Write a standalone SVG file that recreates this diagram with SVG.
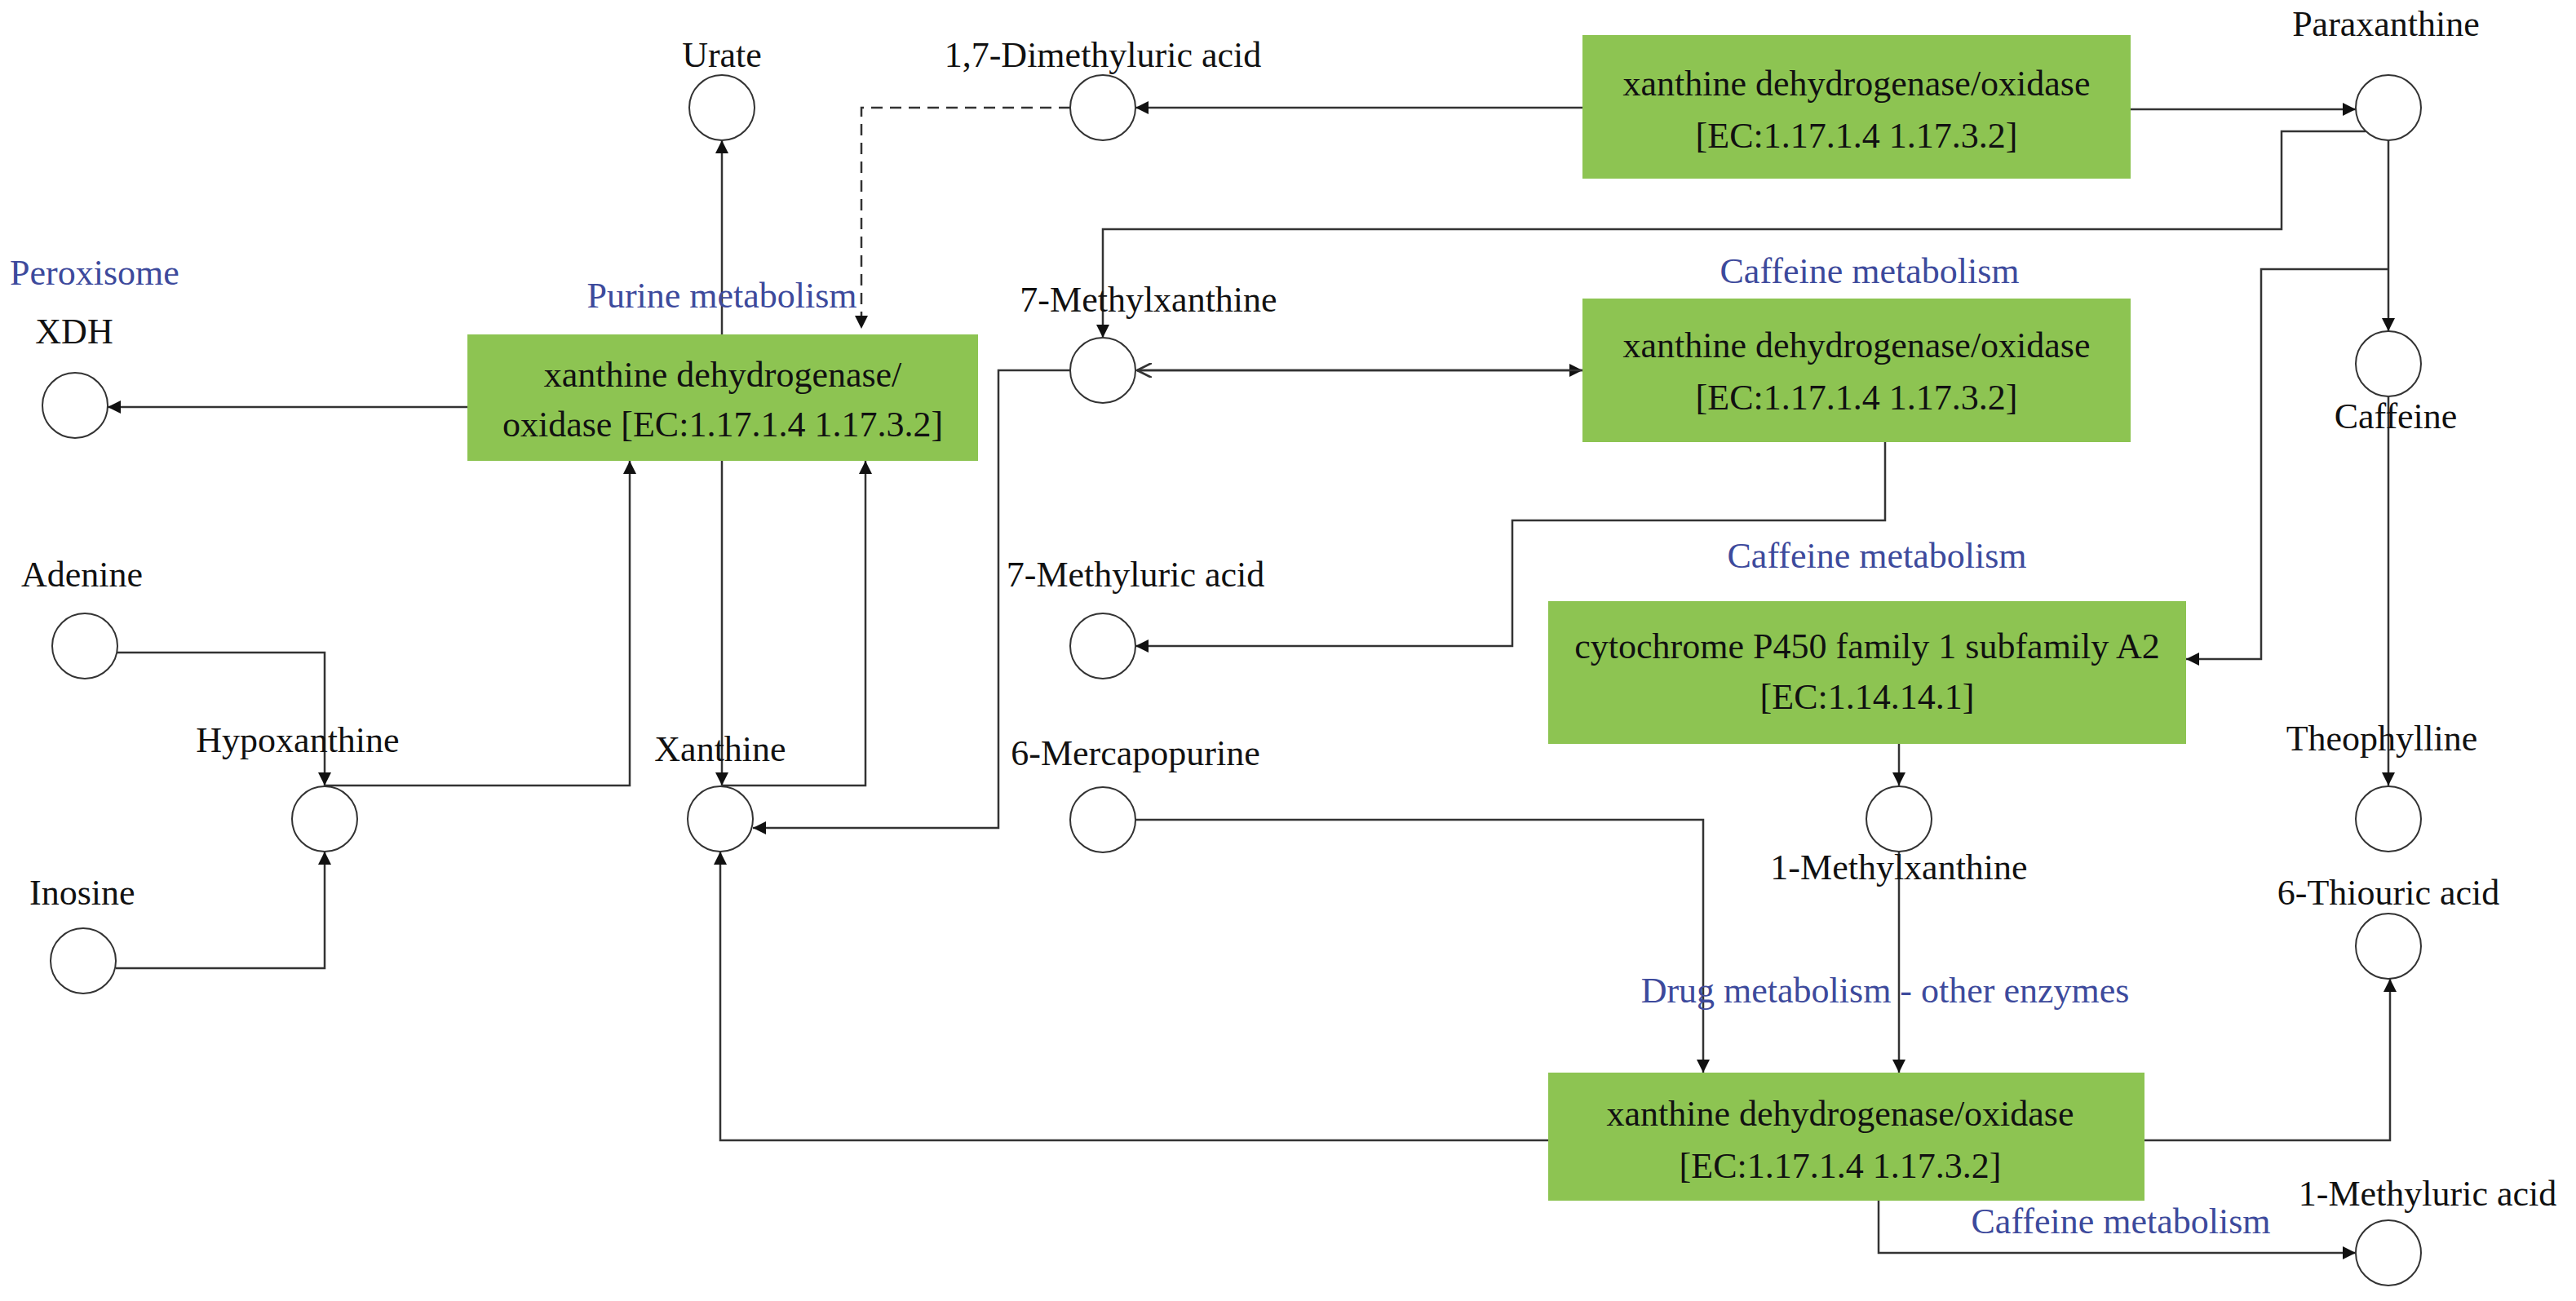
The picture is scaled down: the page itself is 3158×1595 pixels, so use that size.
<svg xmlns="http://www.w3.org/2000/svg" width="3158" height="1595" viewBox="0 0 3158 1595">
<style>
text{font-family:"Liberation Serif","Times New Roman",serif;font-size:44px;fill:#111;text-anchor:middle}
.b{fill:#3d4a9c}
.l{text-anchor:start}
.c{fill:#fff;stroke:#333;stroke-width:2}
.box{fill:#8dc452}
#edges path{fill:none;stroke:#333;stroke-width:2.5}
</style>
<defs>
<marker id="a" viewBox="0 0 10 10" refX="10" refY="5" markerWidth="16" markerHeight="16" markerUnits="userSpaceOnUse" orient="auto"><path d="M0,0L10,5L0,10z" fill="#111"/></marker>
<marker id="o" viewBox="0 0 10 10" refX="10" refY="5" markerWidth="18" markerHeight="18" markerUnits="userSpaceOnUse" orient="auto"><path d="M0,0L10,5L0,10" fill="none" stroke="#333" stroke-width="1.5"/></marker>
</defs>
<rect width="3158" height="1595" fill="#fff"/>
<g id="edges">
<path d="M885,410V172" marker-end="url(#a)"/>
<path d="M1312,132H1056V403" stroke-dasharray="14,9" marker-end="url(#a)"/>
<path d="M573,499H132" marker-end="url(#a)"/>
<path d="M1940,132H1392" marker-end="url(#a)"/>
<path d="M2612,134H2888" marker-end="url(#a)"/>
<path d="M2900,161H2797V281H1352V414" marker-end="url(#a)"/>
<path d="M1392,454H1940" marker-end="url(#a)"/>
<path d="M1940,454H1394" marker-end="url(#o)"/>
<path d="M1312,454H1224V1015H923" marker-end="url(#a)"/>
<path d="M2311,542V638H1854V792H1392" marker-end="url(#a)"/>
<path d="M2928,172V406" marker-end="url(#a)"/>
<path d="M2928,330H2772V808H2680" marker-end="url(#a)"/>
<path d="M2928,486V963" marker-end="url(#a)"/>
<path d="M2328,912V963" marker-end="url(#a)"/>
<path d="M2328,1044V1315" marker-end="url(#a)"/>
<path d="M1392,1005H2088V1315" marker-end="url(#a)"/>
<path d="M142,800H398V963" marker-end="url(#a)"/>
<path d="M142,1187H398V1044" marker-end="url(#a)"/>
<path d="M398,963H772V565" marker-end="url(#a)"/>
<path d="M885,565V963" marker-end="url(#a)"/>
<path d="M885,963H1061V565" marker-end="url(#a)"/>
<path d="M1898,1398H883V1044" marker-end="url(#a)"/>
<path d="M2629,1398H2930V1200" marker-end="url(#a)"/>
<path d="M2303,1472V1536H2888" marker-end="url(#a)"/>
</g>
<g id="n-urate"><circle class="c" cx="885" cy="132" r="40"/><text x="885" y="82">Urate</text></g>
<g id="n-dimethyluric"><circle class="c" cx="1352" cy="132" r="40"/><text x="1352" y="82">1,7-Dimethyluric acid</text></g>
<g id="n-paraxanthine"><circle class="c" cx="2928" cy="132" r="40"/><text x="2925" y="44">Paraxanthine</text></g>
<g id="n-xdh"><circle class="c" cx="92" cy="497" r="40"/><text x="91" y="421">XDH</text><text class="b l" x="12" y="349">Peroxisome</text></g>
<g id="n-purine-box"><rect class="box" x="573" y="410" width="626" height="155"/><text class="b" x="885" y="377">Purine metabolism</text><text x="886" y="474">xanthine dehydrogenase/</text><text x="886" y="535">oxidase [EC:1.17.1.4 1.17.3.2]</text></g>
<g id="n-top-box"><rect class="box" x="1940" y="43" width="672" height="176"/><text x="2276" y="117">xanthine dehydrogenase/oxidase</text><text x="2276" y="181">[EC:1.17.1.4 1.17.3.2]</text></g>
<g id="n-7mx"><circle class="c" cx="1352" cy="454" r="40"/><text x="1408" y="382">7-Methylxanthine</text></g>
<g id="n-box2"><rect class="box" x="1940" y="366" width="672" height="176"/><text class="b" x="2292" y="347">Caffeine metabolism</text><text x="2276" y="438">xanthine dehydrogenase/oxidase</text><text x="2276" y="502">[EC:1.17.1.4 1.17.3.2]</text></g>
<g id="n-caffeine"><circle class="c" cx="2928" cy="446" r="40"/><text x="2937" y="525">Caffeine</text></g>
<g id="n-7mu"><circle class="c" cx="1352" cy="792" r="40"/><text x="1392" y="719">7-Methyluric acid</text></g>
<g id="n-cyp"><rect class="box" x="1898" y="737" width="782" height="175"/><text class="b" x="2301" y="696">Caffeine metabolism</text><text x="2289" y="807">cytochrome P450 family 1 subfamily A2</text><text x="2289" y="869">[EC:1.14.14.1]</text></g>
<g id="n-adenine"><circle class="c" cx="104" cy="792" r="40"/><text class="l" x="26" y="719">Adenine</text></g>
<g id="n-hypoxanthine"><circle class="c" cx="398" cy="1004" r="40"/><text x="365" y="922">Hypoxanthine</text></g>
<g id="n-xanthine"><circle class="c" cx="883" cy="1004" r="40"/><text x="883" y="933">Xanthine</text></g>
<g id="n-6mp"><circle class="c" cx="1352" cy="1005" r="40"/><text x="1392" y="938">6-Mercapopurine</text></g>
<g id="n-1mx"><circle class="c" cx="2328" cy="1004" r="40"/><text x="2328" y="1078">1-Methylxanthine</text></g>
<g id="n-theophylline"><circle class="c" cx="2928" cy="1004" r="40"/><text x="2920" y="920">Theophylline</text></g>
<g id="n-inosine"><circle class="c" cx="102" cy="1178" r="40"/><text class="l" x="36" y="1109">Inosine</text></g>
<g id="n-6tu"><circle class="c" cx="2928" cy="1160" r="40"/><text x="2928" y="1109">6-Thiouric acid</text></g>
<g id="n-bottom-box"><rect class="box" x="1898" y="1315" width="731" height="157"/><text class="b" x="2311" y="1229">Drug metabolism - other enzymes</text><text x="2256" y="1380">xanthine dehydrogenase/oxidase</text><text x="2256" y="1444">[EC:1.17.1.4 1.17.3.2]</text></g>
<g id="n-1mu"><circle class="c" cx="2928" cy="1536" r="40"/><text x="2976" y="1478">1-Methyluric acid</text><text class="b" x="2600" y="1512">Caffeine metabolism</text></g>
</svg>
